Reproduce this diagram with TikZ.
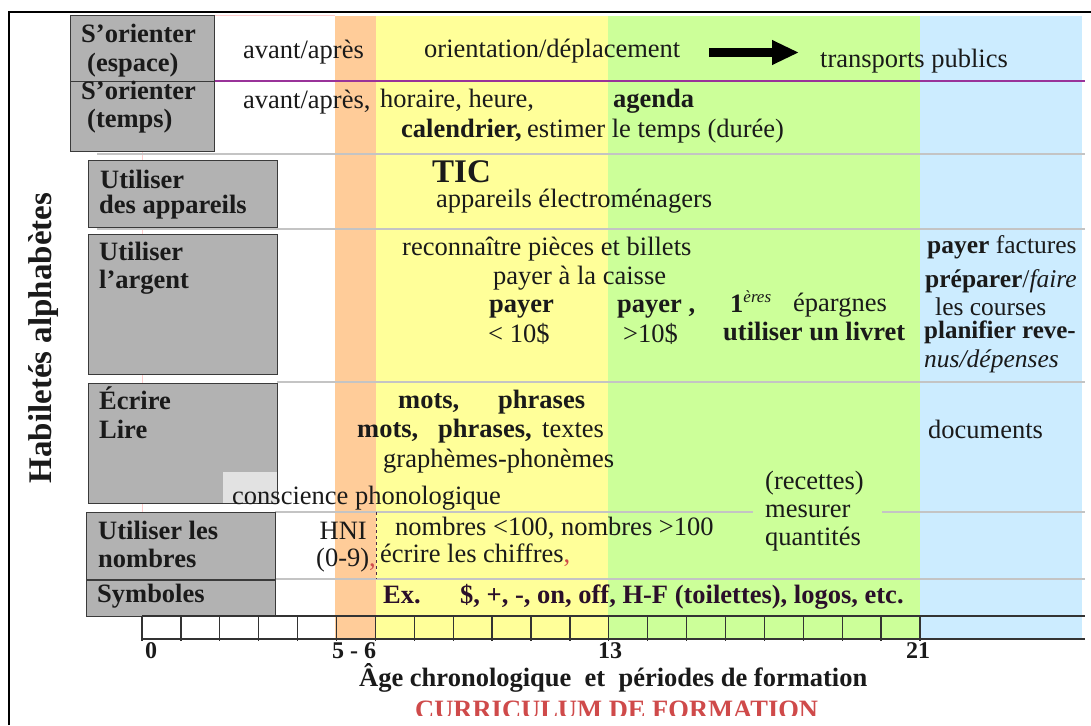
\documentclass[tikz,border=0pt]{standalone}
\usepackage{fontspec}
\setmainfont{Liberation Serif}
\usetikzlibrary{arrows.meta}
\definecolor{bandorange}{HTML}{FFCC99}
\definecolor{bandyellow}{HTML}{FFFF99}
\definecolor{bandgreen}{HTML}{CCFF99}
\definecolor{bandblue}{HTML}{CCECFF}
\definecolor{boxgray}{HTML}{B2B2B2}
\definecolor{boxedge}{HTML}{3A3A3A}
\definecolor{sepgray}{HTML}{C4C4C4}
\definecolor{seppurple}{HTML}{993399}
\definecolor{ink}{HTML}{1A1A1A}
\definecolor{symink}{HTML}{2A0F2A}
\definecolor{curred}{HTML}{CF4A4A}
\definecolor{faintpink}{HTML}{FFCCCC}
\definecolor{lightbox}{HTML}{E2E2E2}
\definecolor{dashink}{HTML}{4A2A4A}

\begin{document}
\begin{tikzpicture}[x=1pt,y=-1pt,
  txt/.style={anchor=base west, inner sep=0pt, text=ink, font=\fontsize{26.5}{30}\selectfont},
  btxt/.style={txt, font=\fontsize{26.5}{30}\selectfont\bfseries},
  rtxt/.style={txt, font=\fontsize{25.5}{30}\selectfont},
  axtxt/.style={txt, font=\fontsize{24}{28}\selectfont\bfseries},
  skillbox/.style={fill=boxgray, draw=boxedge, line width=1pt},
  rowsep/.style={draw=sepgray, line width=1.5pt},
  axisline/.style={draw=black!80, line width=1.6pt},
]
\useasboundingbox (0,0) rectangle (1091,725);
\fill[white] (0,0) rectangle (1091,725);

% training periods (colour bands)
\fill[bandorange] (335,16) rectangle (376,639);
\fill[bandyellow] (376,16) rectangle (608,639);
\fill[bandgreen]  (608,16) rectangle (920,639);
\fill[bandblue]   (920,16) rectangle (1082,639);

% faint guide lines
\draw[faintpink, line width=1pt] (142,151) -- (142,616);
\draw[faintpink, line width=1pt] (214,16) -- (335,16);

% row separators
\draw[seppurple, line width=1.3pt] (195,81) -- (1085,81);
\draw[rowsep] (97,154) -- (1085,154);
\draw[rowsep] (97,229) -- (1085,229);
\draw[rowsep] (277,382) -- (1085,382);
\draw[rowsep] (275,512) -- (753,512);
\draw[rowsep] (882,512) -- (1085,512);
\draw[rowsep] (275,579) -- (1085,579);

% skill boxes
\path[skillbox] (70,16) rectangle (214,81);
\path[skillbox] (70,81) rectangle (214,151);
\path[skillbox] (88,160) rectangle (277,227);
\path[skillbox] (88,234) rectangle (277,374);
\path[skillbox] (88,383) rectangle (277,503);
\path[skillbox] (86,512) rectangle (275,579);
\path[skillbox] (86,580) rectangle (275,616);
\fill[lightbox] (223,472) rectangle (276.5,502.5);

% skill labels
\node[btxt] (b1a) at (81,43) {S’orienter};
\node[btxt] (b1b) at (87,71) {(espace)};
\node[btxt] (b2a) at (81,99) {S’orienter};
\node[btxt] (b2b) at (87,127) {(temps)};
\node[btxt] (b3a) at (100,188) {Utiliser};
\node[btxt] (b3b) at (99,213) {des appareils};
\node[btxt] (b4a) at (99,260) {Utiliser};
\node[btxt] (b4b) at (99,288) {l’argent};
\node[btxt] (b5a) at (99,409) {Écrire};
\node[btxt] (b5b) at (99,438) {Lire};
\node[btxt] (b6a) at (98,539) {Utiliser les};
\node[btxt] (b6b) at (98,567) {nombres};
\node[btxt] (b7a) at (97,602) {Symboles};

% vertical title
\node[rotate=90, inner sep=0pt, text=ink, font=\fontsize{33}{36}\selectfont\bfseries] (vtitle) at (44,338) {Habiletés alphabètes};

% row: space
\node[txt] (r1a) at (243,59) {avant/après};
\node[txt] (r1b) at (424,58) {orientation/déplacement};
\node[txt] (r1c) at (820,67) {transports publics};
\coordinate (arrS) at (709,52.5);
\coordinate (arrE) at (799,52.5);
\draw[black, line width=9pt, -{Triangle[length=27pt,width=23pt]}] (arrS) -- (arrE);

% row: time
\node[txt] (r2a) at (243,108) {avant/après,};
\node[txt] (r2b) at (380,107) {horaire, heure,};
\node[btxt] (r2c) at (613,107) {agenda};
\node[btxt] (r2d) at (401,137) {calendrier,};
\node[txt] (r2e) at (527,137) {estimer le temps (durée)};

% row: appliances
\node[btxt, font=\fontsize{33}{38}\selectfont\bfseries] (r3a) at (432,182) {TIC};
\node[txt] (r3b) at (436,207) {appareils électroménagers};

% row: money
\node[txt] (r4a) at (402,255) {reconnaître pièces et billets};
\node[txt] (r4b) at (493,284) {payer à la caisse};
\node[btxt] (r4c) at (489,312) {payer};
\node[txt] (r4d) at (488,342) {< 10\$};
\node[btxt] (r4e) at (617,312) {payer ,};
\node[txt] (r4f) at (623,342) {>10\$};
\node[btxt] (r4g) at (730,312) {1\raisebox{10pt}{\fontsize{17}{17}\selectfont\mdseries\itshape ères}};
\node[txt] (r4h) at (793,311) {épargnes};
\node[btxt] (r4i) at (723,340) {utiliser un livret};
\node[rtxt] (r4j) at (927,253) {\textbf{payer} factures};
\node[rtxt] (r4k) at (925,287) {\textbf{préparer}/\textit{faire}};
\node[rtxt] (r4l) at (935,315) {les courses};
\node[rtxt, font=\fontsize{25}{30}\selectfont\bfseries] (r4m) at (924,338) {planifier reve-};
\node[rtxt, font=\fontsize{25.5}{30}\selectfont\itshape] (r4n) at (924,367) {nus/dépenses};

% row: writing / reading
\node[btxt] (r5a) at (398,408) {mots,};
\node[btxt] (r5b) at (498,408) {phrases};
\node[btxt] (r5c) at (357,437) {mots,};
\node[btxt] (r5d) at (438,437) {phrases,};
\node[txt] (r5e) at (542,437) {textes};
\node[txt] (r5f) at (383,467) {graphèmes-phonèmes};
\node[txt] (r5g) at (928,438) {documents};
\node[txt] (r5h) at (232,504) {conscience phonologique};

% row: numbers
\draw[dashink, dashed, line width=1pt] (376,512) -- (376,579);
\node[txt, anchor=base east] (r6a) at (367,539) {HNI};
\node[txt, anchor=base east] (r6b) at (376,566) {(0-9)\textcolor{curred}{,}};
\node[txt] (r6c) at (395,535) {nombres <100, nombres >100};
\node[txt] (r6d) at (380,562) {écrire les chiffres\textcolor{curred}{,}};
\node[txt] (r6e) at (765,489) {(recettes)};
\node[txt] (r6f) at (765,517) {mesurer};
\node[txt] (r6g) at (765,545) {quantités};

% row: symbols
\node[btxt, text=symink] (r7a) at (383,603) {Ex.};
\node[btxt, text=symink] (r7b) at (460,603) {\$, +, -, on, off, H-F (toilettes), logos, etc.};

% age axis
\draw[axisline, line width=1.4pt] (142,616) -- (1085,616);
\draw[axisline, line width=2.2pt] (142,639) -- (1085,639);
\foreach \k in {0,...,20}
  \draw[axisline, line width=1.3pt] ({142+38.9*\k},616) -- ({142+38.9*\k},641);
\node[axtxt] (ax0) at (145,658) {0};
\node[axtxt] (ax5) at (332,658) {5 - 6};
\node[axtxt] (ax13) at (598,658) {13};
\node[axtxt] (ax21) at (906,658) {21};
\node[btxt] (axtitle) at (359,686) {Âge chronologique\ \ et\ \ périodes de formation};
\begin{scope}
  \clip (0,0) rectangle (1091,715);
  \node[btxt, text=curred] (curric) at (415,718) {CURRICULUM DE FORMATION};
\end{scope}

% outer frame
\draw[black, line width=2.5pt] (9,725) -- (9,12) -- (1091,12);
\end{tikzpicture}
\end{document}
